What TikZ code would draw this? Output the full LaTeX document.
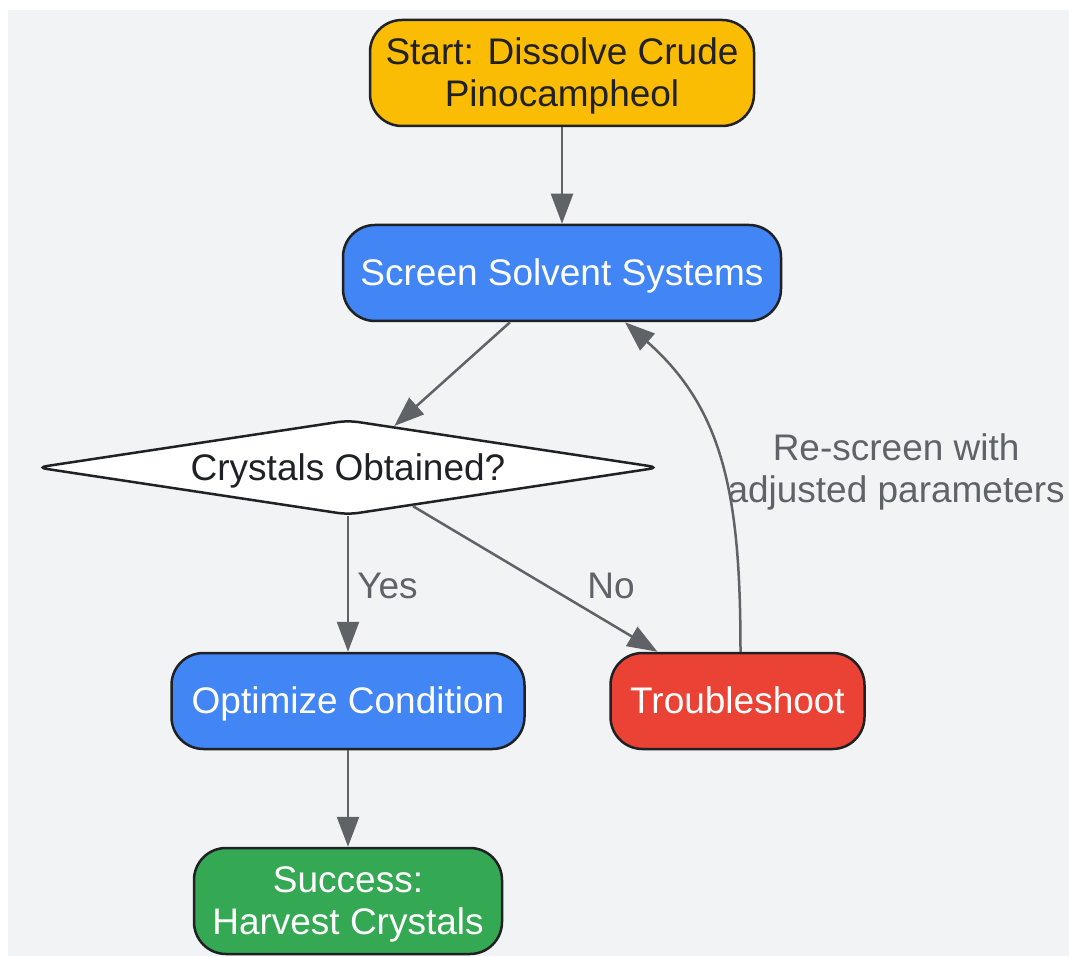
\documentclass[tikz,border=0pt]{standalone}
\usepackage{fontspec}
\setmainfont{Liberation Sans}
\usetikzlibrary{positioning,shapes.geometric,arrows.meta}

\definecolor{bgcol}{HTML}{F1F3F5}
\definecolor{edgecol}{HTML}{5F6368}
\definecolor{linecol}{HTML}{202124}
\definecolor{startcol}{HTML}{FBBC04}
\definecolor{proccol}{HTML}{4285F4}
\definecolor{failcol}{HTML}{EA4335}
\definecolor{donecol}{HTML}{34A853}

\begin{document}
\begin{tikzpicture}[%
	x=1pt,y=-1pt,
	every text node part/.style={align=center},
	font=\fontsize{37pt}{42pt}\selectfont,
	text height=33.5pt,
	text depth=7.8pt,
	node distance=96.5pt,
	twolines/.style={text height=75.5pt},
	flow/.style={%
		draw=edgecol,
		line width=2.5pt,
		-{Triangle[length=30pt,width=22pt,fill=edgecol]}
	},
	box/.style={%
		rectangle,
		rounded corners=32pt,
		draw=linecol,
		line width=2.5pt,
		inner sep=0pt,
		minimum height=96pt,
		text=white
	},
	startbox/.style={%
		box,
		twolines,
		fill=startcol,
		text=linecol,
		minimum width=384pt,
		minimum height=106pt
	},
	proc/.style={%
		box,
		fill=proccol
	},
	fail/.style={%
		box,
		fill=failcol
	},
	done/.style={%
		box,
		twolines,
		fill=donecol,
		minimum height=106pt
	},
	check/.style={%
		diamond,
		aspect=6.56,
		rounded corners=10pt,
		draw=linecol,
		line width=2.5pt,
		fill=white,
		text=linecol,
		inner sep=0pt,
		minimum width=623pt,
		minimum height=95pt
	},
	lbl/.style={%
		text=edgecol,
		inner sep=2pt
	}
	]

	\useasboundingbox (0,0) rectangle (1069,957);
	\fill[bgcol] (8,10) rectangle (1069,956);

	\node[startbox] (start) at (562,73) {Start: Dissolve Crude\\Pinocampheol};
	\node[proc,minimum width=438pt] (screen) [below=of start] {Screen Solvent Systems};
	\node[check] (crystals) [below=of screen,xshift=-214pt] {Crystals Obtained?};
	\node[proc,minimum width=353pt] (optimize) [below=of crystals,yshift=-39pt] {Optimize Condition};
	\node[fail,minimum width=254pt] (trouble) [right=of optimize,xshift=-13pt] {Troubleshoot};
	\node[done,minimum width=308pt] (success) [below=of optimize] {Success:\\Harvest Crystals};

	\draw[flow] (start) -- (screen);
	\draw[flow] ([xshift=-52pt]screen.south) -- (crystals);
	\draw[flow] (crystals) -- node[lbl,right=6pt,yshift=-2pt] {Yes} (optimize);
	\draw[flow] (crystals) -- node[lbl,pos=0.81,yshift=38pt] {No} ([xshift=-80pt]trouble.north);
	\draw[flow] (optimize) -- (success);
	\draw[flow] ([xshift=3pt]trouble.north) .. controls +(0,-153) and +(100,88) .. ([xshift=63pt]screen.south)
		node[lbl,twolines,pos=0.5,right=4pt,yshift=-6pt] {Re-screen with\\adjusted parameters};
\end{tikzpicture}
\end{document}
